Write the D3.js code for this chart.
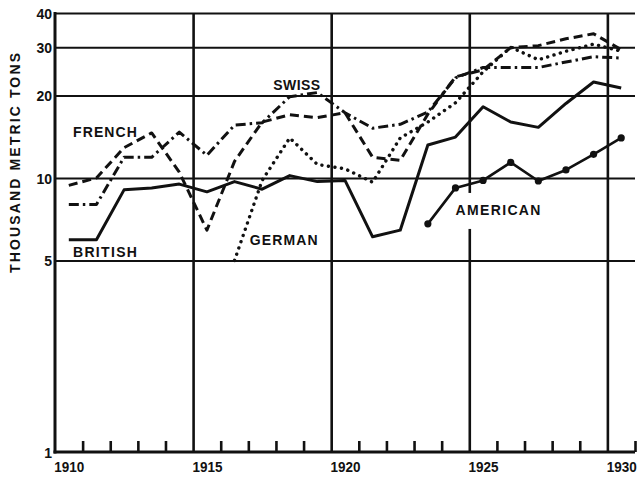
<!DOCTYPE html>
<html>
<head>
<meta charset="utf-8">
<script src="https://cdnjs.cloudflare.com/ajax/libs/d3/7.8.5/d3.min.js"></script>
<style>
  body { margin: 0; background: #fff; }
  text { font-family: "Liberation Sans", Arial, sans-serif; font-weight: bold; fill: #111; }
</style>
</head>
<body>
<div id="chart"></div>
<script>
//years on the x axis (values are plotted at the middle of each year)
var years = [1910, 1911, 1912, 1913, 1914, 1915, 1916, 1917, 1918, 1919, 1920,
             1921, 1922, 1923, 1924, 1925, 1926, 1927, 1928, 1929, 1930];

//thousand metric tons
var british  = [5.95, 5.95, 9.05, 9.2, 9.5, 8.9, 9.7, 9.1, 10.2, 9.7, 9.8,
                6.1, 6.45, 13.2, 14.1, 18.2, 16.0, 15.3, 18.7, 22.4, 21.3];
var french   = [9.4, 10.0, 12.9, 14.6, 10.5, 6.45, 11.5, 16.0, 17.0, 16.6, 17.3,
                11.9, 11.6, 17.1, 23.4, 24.8, 29.9, 30.4, 32.2, 33.6, 29.4];
var swiss    = [8.0, 8.0, 11.9, 11.9, 14.7, 12.1, 15.6, 15.9, 19.8, 20.5, 17.3,
                15.2, 15.7, 17.4, 23.2, 25.3, 25.3, 25.3, 26.5, 27.7, 27.4];
var german   = [null, null, null, null, null, null, 5.0, 9.8, 14.0, 11.2, 10.8,
                9.65, 14.0, 16.0, 18.8, 24.4, 30.0, 27.0, 29.0, 30.8, 29.0];
var american = [null, null, null, null, null, null, null, null, null, null, null,
                null, null, 6.8, 9.2, 9.8, 11.4, 9.75, 10.7, 12.2, 14.0];

//tick labels
var yTicks = [1, 5, 10, 20, 30, 40];
var yGrid = [5, 10, 20, 30, 40];
var xLabels = [1910, 1915, 1920, 1925, 1930];
var xMajor = [1915, 1920, 1925, 1930];
var xMinor = [1911, 1912, 1913, 1914, 1916, 1917, 1918, 1919, 1921, 1922, 1923, 1924,
              1926, 1927, 1928, 1929, 1931];

var config = {
	w: 638,
	h: 477,
	left: 55,		//x of the 1910 axis
	right: 635,		//x of 1931
	top: 13,		//y of 40
	bottom: 452,	//y of 1
	ink: "#111"
};

var x = d3.scaleLinear().domain([1910, 1931]).range([config.left, config.right]);
var y = d3.scaleLog().domain([1, 40]).range([config.bottom, config.top]);

var svg = d3.select("#chart").append("svg")
	.attr("width", config.w)
	.attr("height", config.h);

/////////////////////////////////////////////////////////
/////////////////////// Grid ////////////////////////////
/////////////////////////////////////////////////////////

//horizontal lines
var hGrid = svg.append("g")
	.attr("transform", "translate(" + config.left + ",0)")
	.call(d3.axisLeft(y).tickValues(yGrid).tickSize(-(config.right - config.left)).tickFormat(""));
hGrid.select(".domain").remove();
hGrid.selectAll("line").attr("stroke", config.ink).attr("stroke-width", 2);

//vertical lines every 5 years
var vGrid = svg.append("g")
	.attr("transform", "translate(0," + config.bottom + ")")
	.call(d3.axisBottom(x).tickValues(xMajor).tickSize(-(config.bottom - config.top)).tickFormat(""));
vGrid.select(".domain").remove();
vGrid.selectAll("line").attr("stroke", config.ink).attr("stroke-width", 2.6);

//small year ticks
var minor = svg.append("g")
	.attr("transform", "translate(0," + config.bottom + ")")
	.call(d3.axisBottom(x).tickValues(xMinor).tickSize(-11).tickFormat(""));
minor.select(".domain").remove();
minor.selectAll("line").attr("stroke", config.ink).attr("stroke-width", 2.6);

//axes lines
svg.append("line")
	.attr("x1", x(1910)).attr("x2", x(1910))
	.attr("y1", y(40) - 1).attr("y2", y(1) + 1.5)
	.attr("stroke", config.ink).attr("stroke-width", 3);
svg.append("line")
	.attr("x1", x(1910) - 1.5).attr("x2", x(1931))
	.attr("y1", y(1)).attr("y2", y(1))
	.attr("stroke", config.ink).attr("stroke-width", 3);

/////////////////////////////////////////////////////////
/////////////////////// Labels //////////////////////////
/////////////////////////////////////////////////////////

var yAxis = svg.append("g")
	.attr("transform", "translate(" + (config.left - 2) + ",0)")
	.call(d3.axisLeft(y).tickValues(yTicks).tickFormat(d3.format("d")).tickSize(0).tickPadding(1));
yAxis.select(".domain").remove();
yAxis.selectAll("text")
	.attr("font-family", null)
	.style("font-size", "14px")
	.attr("dy", "0.36em");

//year labels sit in the middle of their year
var xAxis = svg.append("g")
	.attr("transform", "translate(0," + config.bottom + ")")
	.call(d3.axisBottom(x).tickValues(xLabels.map(function(d){ return d + 0.5; }))
		.tickFormat(function(d){ return d - 0.5; }).tickSize(0).tickPadding(10));
xAxis.select(".domain").remove();
xAxis.selectAll("text")
	.attr("font-family", null)
	.style("font-size", "14px")
	.attr("textLength", 30)
	.attr("lengthAdjust", "spacingAndGlyphs");

//axis title
svg.append("text")
	.attr("transform", "translate(20,163) rotate(-90)")
	.attr("text-anchor", "middle")
	.style("font-size", "14px")
	.attr("textLength", 220)
	.attr("lengthAdjust", "spacing")
	.text("THOUSAND METRIC TONS");

/////////////////////////////////////////////////////////
/////////////////////// Series //////////////////////////
/////////////////////////////////////////////////////////

var series = [
	{name: "BRITISH",  values: british,  dash: null,       width: 3,   lx: 1910.65, ly: 5.15, lw: 64},
	{name: "FRENCH",   values: french,   dash: "9,5",      width: 3,   lx: 1910.65, ly: 14.1, lw: 64},
	{name: "SWISS",    values: swiss,    dash: "10,4,2.5,4", width: 3, lx: 1917.9,  ly: 21.0, lw: 47},
	{name: "GERMAN",   values: german,   dash: "0.1,6.5",  width: 3.4, lx: 1917.05, ly: 5.69, lw: 68},
	{name: "AMERICAN", values: american, dash: null,       width: 2.6, lx: 1924.5,  ly: 7.33, lw: 85}
];

series.forEach(function(s){
	s.points = years.map(function(yr, i){ return {year: yr, value: s.values[i]}; });
});

//knock the grid out behind the american label
var am = series[4];
svg.append("rect")
	.attr("x", x(am.lx) - 3)
	.attr("y", y(am.ly) - 22)
	.attr("width", am.lw + 6)
	.attr("height", 36)
	.attr("fill", "#fff");

var line = d3.line()
	.defined(function(d){ return d.value != null; })
	.x(function(d){ return x(d.year + 0.5); })
	.y(function(d){ return y(d.value); });

svg.selectAll(".series")
	.data(series)
	.join("path")
	.attr("class", "series")
	.attr("d", function(d){ return line(d.points); })
	.attr("fill", "none")
	.attr("stroke", config.ink)
	.attr("stroke-width", function(d){ return d.width; })
	.attr("stroke-dasharray", function(d){ return d.dash; })
	.attr("stroke-linecap", function(d){ return d.name === "GERMAN" ? "round" : "butt"; })
	.attr("stroke-linejoin", "round");

//dots on the american line
svg.selectAll(".amDot")
	.data(am.points.filter(function(d){ return d.value != null; }))
	.join("circle")
	.attr("class", "amDot")
	.attr("cx", function(d){ return x(d.year + 0.5); })
	.attr("cy", function(d){ return y(d.value); })
	.attr("r", 3.6)
	.attr("fill", config.ink);

svg.selectAll(".seriesLabel")
	.data(series)
	.join("text")
	.attr("class", "seriesLabel")
	.attr("x", function(d){ return x(d.lx); })
	.attr("y", function(d){ return y(d.ly); })
	.style("font-size", "14px")
	.attr("textLength", function(d){ return d.lw; })
	.attr("lengthAdjust", "spacing")
	.text(function(d){ return d.name; });
</script>
</body>
</html>
